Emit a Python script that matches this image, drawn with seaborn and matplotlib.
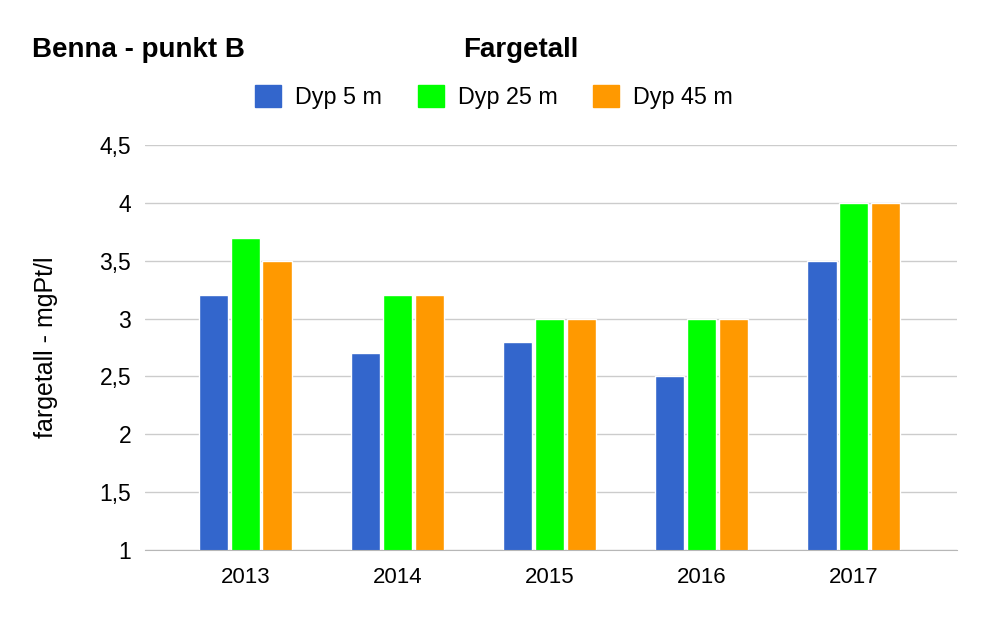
import seaborn as sns
import matplotlib.pyplot as plt
import pandas as pd

years = ["2013", "2014", "2015", "2016", "2017"]
series = ["Dyp 5 m", "Dyp 25 m", "Dyp 45 m"]
dyp_5 = [3.2, 2.7, 2.8, 2.5, 3.5]
dyp_25 = [3.7, 3.2, 3.0, 3.0, 4.0]
dyp_45 = [3.5, 3.2, 3.0, 3.0, 4.0]
yticks = [1, 1.5, 2, 2.5, 3, 3.5, 4, 4.5]
colors = ["#3366cc", "#00ff00", "#ff9900"]

df = pd.DataFrame({
    "year": years * 3,
    "value": dyp_5 + dyp_25 + dyp_45,
    "series": [s for s in series for _ in years],
})

sns.set_style("white")
plt.rcParams["font.family"] = ["Liberation Sans", "DejaVu Sans"]
plt.rcParams["text.color"] = "black"
plt.rcParams["axes.labelcolor"] = "black"
plt.rcParams["xtick.color"] = "black"
plt.rcParams["ytick.color"] = "black"

fig = plt.figure(figsize=(9.88, 6.18), dpi=100)
ax = fig.add_axes([145 / 988, 1 - 550 / 618, 812 / 988, 405 / 618])

sns.barplot(data=df, x="year", y="value", hue="series", palette=colors,
            width=0.63, gap=0.07, ax=ax, legend=False, saturation=1)

ax.set_ylim(1, 4.5)
ax.set_xlim(-0.66, 4.68)
ax.set_yticks(yticks)
ax.set_yticklabels([f"{t:g}".replace(".", ",") for t in yticks], fontsize=16.5)
ax.tick_params(axis="x", labelsize=16, length=0, pad=12)
ax.tick_params(axis="y", length=0, pad=10)
ax.yaxis.grid(True, color="#cccccc", linewidth=1)
ax.set_axisbelow(True)
for s in ["top", "right", "left"]:
    ax.spines[s].set_visible(False)
ax.spines["bottom"].set_color("#b7b7b7")
ax.set_xlabel("")
ax.set_ylabel("fargetall - mgPt/l", fontsize=18)
ax.yaxis.set_label_coords((58 - 145) / 812, 0.5)

fig.text(32 / 988, 1 - 57 / 618, "Benna - punkt B", fontsize=20, fontweight="bold", va="baseline")
fig.text(521 / 988, 1 - 57 / 618, "Fargetall", fontsize=20, fontweight="bold", va="baseline", ha="center")

handles = [plt.Rectangle((0, 0), 1, 1, color=c) for c in colors]
fig.legend(handles, series, loc="center", bbox_to_anchor=(494 / 988, 1 - 97 / 618),
           ncol=3, frameon=False, fontsize=16.8, handlelength=1.1, handleheight=1.1,
           columnspacing=1.55, handletextpad=0.6)

fig.savefig("out.png", dpi=100)
